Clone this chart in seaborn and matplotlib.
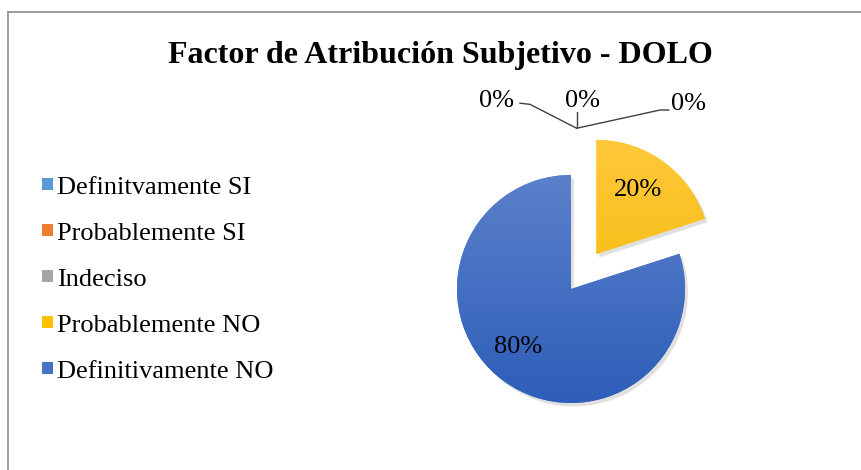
import numpy as np
import matplotlib
matplotlib.use('Agg')
import matplotlib.pyplot as plt
import seaborn as sns
from matplotlib.lines import Line2D

sns.set_theme(style='white')
plt.rcParams['font.family'] = ['Liberation Serif', 'DejaVu Serif']

# data
categories = ['Definitvamente SI', 'Probablemente SI', 'Indeciso',
              'Probablemente NO', 'Definitivamente NO']
values = [0, 0, 0, 20, 80]
colors = ['#5B9BD5', '#ED7D31', '#A5A5A5', '#FFC000', '#4472C4']
explode = [0, 0, 0, 0.38, 0]

# gradients (top, bottom) for the visible slices
gradients = {3: ('#FFC83A', '#F2B800'), 4: ('#5B80CC', '#2E5EB8')}

# label positions for each slice, in pie units (center = 0,0)
label_pos = [(-0.65, 1.65), (0.10, 1.65), (1.03, 1.62), (0.59, 0.87), (-0.46, -0.51)]
leader_target = (0.05, 1.41)

fig = plt.figure(figsize=(8.61, 4.70), dpi=100)
ax = fig.add_axes([343 / 861, -47 / 470, 456 / 861, 456 / 470])

wedges, _ = ax.pie(values, colors=colors, explode=explode, startangle=90,
                   counterclock=False, radius=1.0,
                   wedgeprops=dict(linewidth=0))
ax.set_xlim(-2, 2)
ax.set_ylim(-2, 2)
ax.axis('off')

# soft shadow + vertical gradient fill for each non-empty slice
for i, w in enumerate(wedges):
    if values[i] == 0:
        continue
    sh = matplotlib.patches.Wedge((w.center[0] + 0.025, w.center[1] - 0.03), w.r,
                                  w.theta1, w.theta2, facecolor='#000000',
                                  alpha=0.12, linewidth=0, zorder=0.5)
    ax.add_patch(sh)
    top, bot = gradients[i]
    cmap = matplotlib.colors.LinearSegmentedColormap.from_list('g', [bot, top])
    cx, cy = w.center
    grad = np.linspace(0, 1, 256).reshape(-1, 1)
    im = ax.imshow(grad, cmap=cmap, origin='lower', aspect='auto',
                   extent=[cx - 1, cx + 1, cy - 1, cy + 1], zorder=1.5)
    im.set_clip_path(w)
    w.set_zorder(1)

# percentage labels
for i, v in enumerate(values):
    x, y = label_pos[i]
    ax.text(x, y, f'{v}%', ha='center', va='center', fontsize=19, color='#000000',
            zorder=3, clip_on=False)

# leader lines for the 0% slices
tx, ty = leader_target
lines = [[(-0.45, 1.63), (-0.36, 1.62), (tx, ty)],
         [(tx, 1.55), (tx, ty)],
         [(tx, ty), (0.78, 1.57), (0.86, 1.57)]]
for pts in lines:
    xs, ys = zip(*pts)
    ax.add_line(Line2D(xs, ys, color='#404040', linewidth=1.0, clip_on=False))

fig.text(0.511, 1 - 55 / 470, 'Factor de Atribución Subjetivo - DOLO',
         ha='center', va='center', fontsize=23, fontweight='bold', color='#000000')

leg = fig.legend(wedges, categories, loc='upper left',
                 bbox_to_anchor=(31 / 861, 1 - 166 / 470), frameon=False,
                 fontsize=19, handlelength=0.45, handleheight=0.35,
                 handletextpad=0.15, labelspacing=0.91, borderaxespad=0)
for t in leg.get_texts():
    t.set_color('#000000')

# chart border (left and top edges visible)
fig.add_artist(Line2D([8 / 861, 8 / 861], [0, 1 - 12 / 470], transform=fig.transFigure,
                      color='#8A8A8A', linewidth=1.2))
fig.add_artist(Line2D([8 / 861, 1], [1 - 12 / 470, 1 - 12 / 470], transform=fig.transFigure,
                      color='#8A8A8A', linewidth=1.2))

fig.savefig('out.png', dpi=100, facecolor='white')
